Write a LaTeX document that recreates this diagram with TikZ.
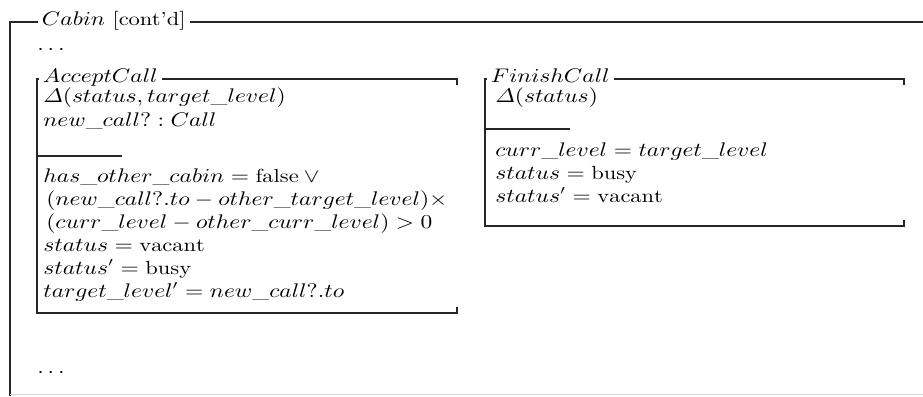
\documentclass[tikz,border=0pt]{standalone}
\usepackage{amssymb,amsmath}
\usepackage{graphicx}
\usepackage{fontspec}
\usetikzlibrary{positioning,calc}

% schemas are set a little wide
\newcommand{\zx}[1]{\scalebox{1.19}[1]{#1}}

\begin{document}
\begin{tikzpicture}[x=0.5556pt,y=0.5556pt,
every node/.style={font=\fontsize{10.5pt}{13pt}\selectfont},
zline/.style={anchor=base west,inner sep=0pt},
ztitle/.style={anchor=base west,inner xsep=2pt,inner ysep=0pt},
frame/.style={line width=0.7pt,color=black!85}]

\useasboundingbox (0,0) rectangle (923,-396);

% corners
\coordinate (cabNW) at (10,-22);
\coordinate (cabSE) at (923,-396);
\coordinate (accNW) at (37,-79);
\coordinate (accSE) at (457,-313);
\coordinate (finNW) at (485,-79);
\coordinate (finSE) at (904,-226);

% outer schema
\node[ztitle] (cabin) at (38,-25) {\zx{$Cabin$ [cont'd]}};
\draw[frame] (cabin.west |- cabNW) -- (cabNW) -- (cabNW |- cabSE);
\draw[frame] (cabin.east |- cabNW) -- (cabSE |- cabNW);
\draw[gray!35,line width=0.6pt] (10,-394.5) -- (923,-394.5);
\node[zline] (dots1) at (37,-50) {\zx{$\ldots$}};
\node[zline] (dots2) at (37,-373) {\zx{$\ldots$}};

% AcceptCall
\node[ztitle] (acc) at (39,-82) {\zx{$AcceptCall$}};
\draw[frame] (acc.west |- accNW) -- (accNW) -- (accNW |- accSE) -- (accSE) -- ++(0,6);
\draw[frame] (acc.east |- accNW) -- (accSE |- accNW) -- ++(0,-6);
\draw[frame] (accNW |- 0,-156) -- ++(85,0);
\node[zline] (acc1) at (43,-102) {\zx{$\varDelta(status, target\_level)$}};
\node[zline] (acc2) at (43,-126) {\zx{$new\_call? : Call$}};
\node[zline] (acc3) at (43,-182) {\zx{$has\_other\_cabin = \mathrm{false} \lor{}$}};
\node[zline] (acc4) at (46,-205) {\zx{$(new\_call?.to - other\_target\_level)\times$}};
\node[zline] (acc5) at (46,-228) {\zx{$(curr\_level - other\_curr\_level) > 0$}};
\node[zline] (acc6) at (43,-251) {\zx{$status = \mathrm{vacant}$}};
\node[zline] (acc7) at (43,-274) {\zx{$status' = \mathrm{busy}$}};
\node[zline] (acc8) at (43,-297) {\zx{$target\_level' = new\_call?.to$}};

% FinishCall
\node[ztitle] (fin) at (487,-82) {\zx{$FinishCall$}};
\draw[frame] (fin.west |- finNW) -- (finNW) -- (finNW |- finSE) -- (finSE) -- ++(0,6);
\draw[frame] (fin.east |- finNW) -- (finSE |- finNW) -- ++(0,-6);
\draw[frame] (finNW |- 0,-129) -- ++(85,0);
\node[zline] (fin1) at (495,-102) {\zx{$\varDelta(status)$}};
\node[zline] (fin2) at (495,-156) {\zx{$curr\_level = target\_level$}};
\node[zline] (fin3) at (495,-179) {\zx{$status = \mathrm{busy}$}};
\node[zline] (fin4) at (495,-202) {\zx{$status' = \mathrm{vacant}$}};
\end{tikzpicture}
\end{document}
